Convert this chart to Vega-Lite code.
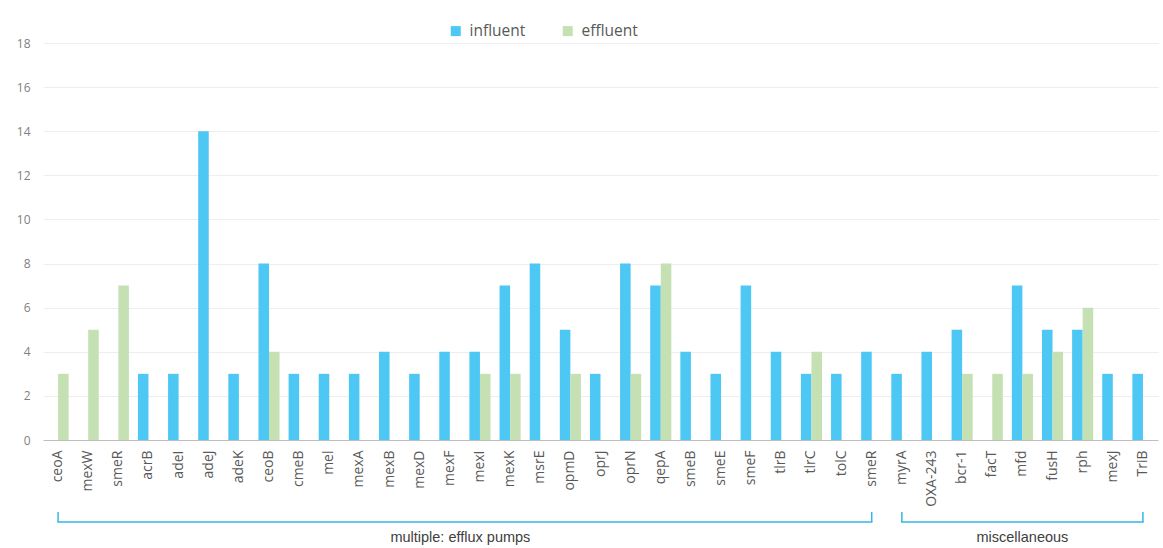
{
  "$schema": "https://vega.github.io/schema/vega-lite/v6.json",
  "width": 1115,
  "height": 397,
  "autosize": {"type": "none"},
  "padding": {"left": 43, "top": 43, "right": 5, "bottom": 108},
  "background": "white",
  "config": {"view": {"stroke": null}, "font": "Open Sans"},
  "datasets": {
    "bars": [
      {"gene": "ceoA", "series": "effluent", "value": 3},
      {"gene": "mexW", "series": "effluent", "value": 5},
      {"gene": "smeR", "series": "effluent", "value": 7},
      {"gene": "acrB", "series": "influent", "value": 3},
      {"gene": "adeI", "series": "influent", "value": 3},
      {"gene": "adeJ", "series": "influent", "value": 14},
      {"gene": "adeK", "series": "influent", "value": 3},
      {"gene": "ceoB", "series": "influent", "value": 8},
      {"gene": "ceoB", "series": "effluent", "value": 4},
      {"gene": "cmeB", "series": "influent", "value": 3},
      {"gene": "mel", "series": "influent", "value": 3},
      {"gene": "mexA", "series": "influent", "value": 3},
      {"gene": "mexB", "series": "influent", "value": 4},
      {"gene": "mexD", "series": "influent", "value": 3},
      {"gene": "mexF", "series": "influent", "value": 4},
      {"gene": "mexI", "series": "influent", "value": 4},
      {"gene": "mexI", "series": "effluent", "value": 3},
      {"gene": "mexK", "series": "influent", "value": 7},
      {"gene": "mexK", "series": "effluent", "value": 3},
      {"gene": "msrE", "series": "influent", "value": 8},
      {"gene": "opmD", "series": "influent", "value": 5},
      {"gene": "opmD", "series": "effluent", "value": 3},
      {"gene": "oprJ", "series": "influent", "value": 3},
      {"gene": "oprN", "series": "influent", "value": 8},
      {"gene": "oprN", "series": "effluent", "value": 3},
      {"gene": "qepA", "series": "influent", "value": 7},
      {"gene": "qepA", "series": "effluent", "value": 8},
      {"gene": "smeB", "series": "influent", "value": 4},
      {"gene": "smeE", "series": "influent", "value": 3},
      {"gene": "smeF", "series": "influent", "value": 7},
      {"gene": "tlrB", "series": "influent", "value": 4},
      {"gene": "tlrC", "series": "influent", "value": 3},
      {"gene": "tlrC", "series": "effluent", "value": 4},
      {"gene": "tolC", "series": "influent", "value": 3},
      {"gene": "smeR_2", "series": "influent", "value": 4},
      {"gene": "myrA", "series": "influent", "value": 3},
      {"gene": "OXA-243", "series": "influent", "value": 4},
      {"gene": "bcr-1", "series": "influent", "value": 5},
      {"gene": "bcr-1", "series": "effluent", "value": 3},
      {"gene": "facT", "series": "effluent", "value": 3},
      {"gene": "mfd", "series": "influent", "value": 7},
      {"gene": "mfd", "series": "effluent", "value": 3},
      {"gene": "fusH", "series": "influent", "value": 5},
      {"gene": "fusH", "series": "effluent", "value": 4},
      {"gene": "rph", "series": "influent", "value": 5},
      {"gene": "rph", "series": "effluent", "value": 6},
      {"gene": "mexJ", "series": "influent", "value": 3},
      {"gene": "TriB", "series": "influent", "value": 3}
    ],
    "groups": [
      {"group": "multiple: efflux pumps", "first": "ceoA", "last": "smeR_2"},
      {"group": "miscellaneous", "first": "myrA", "last": "TriB"}
    ],
    "ends": [
      {"gene": "ceoA"}, {"gene": "smeR_2"}, {"gene": "myrA"}, {"gene": "TriB"}
    ]
  },
  "layer": [
    {
      "data": {"name": "bars"},
      "mark": {"type": "bar"},
      "encoding": {
        "x": {
          "field": "gene", "type": "nominal",
          "scale": {
            "domain": ["ceoA","mexW","smeR","acrB","adeI","adeJ","adeK","ceoB","cmeB","mel","mexA","mexB","mexD","mexF","mexI","mexK","msrE","opmD","oprJ","oprN","qepA","smeB","smeE","smeF","tlrB","tlrC","tolC","smeR_2","myrA","OXA-243","bcr-1","facT","mfd","fusH","rph","mexJ","TriB"],
            "paddingInner": 0.3, "paddingOuter": 0.15
          },
          "axis": {
            "title": null, "labelAngle": -90, "ticks": false, "labelPadding": 10,
            "labelFontSize": 14, "labelColor": "#595959", "domainColor": "#bfbfbf",
            "labelExpr": "replace(datum.label, '_2', '')"
          }
        },
        "xOffset": {"field": "series", "type": "nominal", "scale": {"domain": ["influent", "effluent"]}},
        "y": {
          "field": "value", "type": "quantitative",
          "scale": {"domain": [0, 18]},
          "axis": {
            "title": null, "values": [0,2,4,6,8,10,12,14,16,18], "domain": false, "ticks": false,
            "labelPadding": 13, "labelFontSize": 12, "labelColor": "#7f7f7f", "gridColor": "#eeeeee"
          }
        },
        "color": {
          "field": "series", "type": "nominal",
          "scale": {"domain": ["influent", "effluent"], "range": ["#4DC7F3", "#C5E0B3"]},
          "legend": {
            "title": null, "orient": "none", "direction": "horizontal", "legendX": 405, "legendY": -20,
            "symbolType": "square", "symbolSize": 100, "symbolStrokeWidth": 0, "labelFontSize": 15.5,
            "labelColor": "#595959", "columnPadding": 34, "labelOffset": 6
          }
        }
      }
    },
    {
      "data": {"name": "groups"},
      "mark": {"type": "rule", "color": "#35B6EA", "strokeWidth": 1.5, "strokeCap": "square"},
      "encoding": {
        "x": {"field": "first", "type": "nominal"},
        "x2": {"field": "last"},
        "y": {"value": 479}
      }
    },
    {
      "data": {"name": "ends"},
      "mark": {"type": "rule", "color": "#35B6EA", "strokeWidth": 1.5},
      "encoding": {
        "x": {"field": "gene", "type": "nominal"},
        "y": {"value": 469},
        "y2": {"value": 479}
      }
    },
    {
      "data": {"values": [{"group": "multiple: efflux pumps", "anchor": "mexF"}]},
      "mark": {"type": "text", "font": "Liberation Sans", "fontSize": 14.5, "color": "#404040", "baseline": "middle"},
      "encoding": {
        "x": {"field": "anchor", "type": "nominal", "bandPosition": 1},
        "y": {"value": 495},
        "text": {"field": "group"}
      }
    },
    {
      "data": {"values": [{"group": "miscellaneous", "anchor": "mfd"}]},
      "mark": {"type": "text", "font": "Liberation Sans", "fontSize": 14.5, "color": "#404040", "baseline": "middle"},
      "encoding": {
        "x": {"field": "anchor", "type": "nominal"},
        "y": {"value": 495},
        "text": {"field": "group"}
      }
    }
  ]
}
